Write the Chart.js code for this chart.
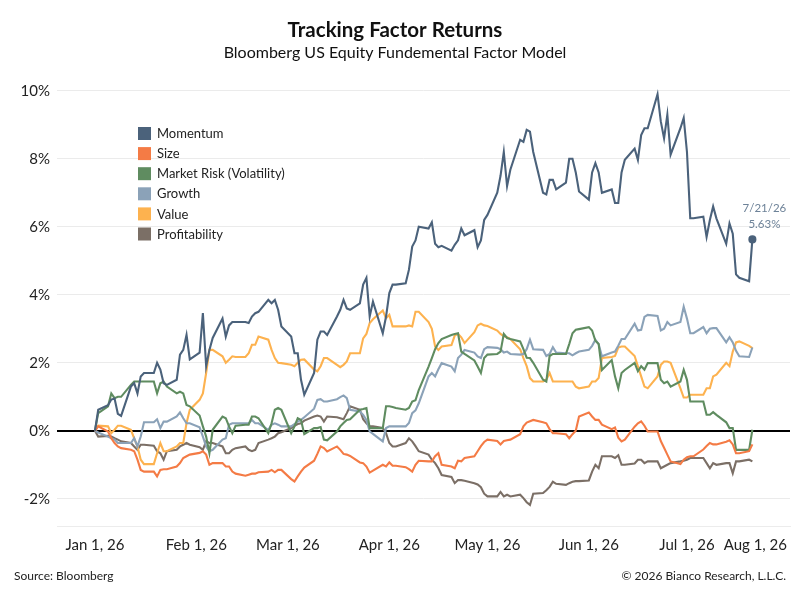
<!DOCTYPE html>
<html>
<head>
<meta charset="utf-8">
<title>Tracking Factor Returns</title>
<script src="https://cdn.jsdelivr.net/npm/chart.js@4.4.1/dist/chart.umd.min.js"></script>
<style>
  html, body { margin: 0; padding: 0; background: #fff; }
  #wrap { width: 800px; height: 600px; position: relative; }
</style>
</head>
<body>
<div id="wrap"><canvas id="chart"></canvas></div>
<script>
// daily factor returns (%), one value per trading day from Jan 1 to Jul 21, 2026
const momentum = [
  0, 0.62, 0.75, 0.92, 0.95, 0.5, 0.44, 1.3, 1.4, 1.1,
  1.6, 1.7, 1.7, 2.0, 1.8, 1.4, 1.35, 1.5, 2.24, 2.38,
  2.82, 2.1, 2.3, 3.46, 1.9, 2.38, 2.73, 3.3, 2.77, 3.1,
  3.2, 3.2, 3.2, 3.17, 3.36, 3.46, 3.5, 3.85, 3.75, 3.85,
  3.56, 3.07, 2.77, 2.28, 2.28, 1.5, 1.06, 1.7, 2.68, 2.92,
  2.92, 2.82, 3.36, 3.56, 3.85, 3.6, 3.56, 3.75, 4.3, 4.5,
  3.36, 3.8, 2.87, 3.36, 4.05, 4.3, 4.3, 4.34, 4.74, 5.42,
  5.6, 6.0, 5.95, 6.13, 5.5, 5.4, 5.44, 5.3, 5.47, 5.6,
  5.95, 5.75, 5.9, 5.4, 5.6, 6.2, 6.35, 7.0, 7.5, 8.2,
  7.2, 7.68, 8.56, 8.5, 8.85, 8.8, 8.2, 7.0, 6.95, 7.38,
  7.38, 7.1, 7.3, 8.0, 8.0, 7.6, 7.04, 6.8, 7.6, 7.87,
  7.6, 7.0, 7.1, 6.7, 6.7, 7.6, 7.97, 8.3, 7.97, 8.7,
  8.9, 8.9, 9.9, 9.1, 8.6, 9.3, 8.12, 8.9, 9.2, 8.2,
  6.25, 6.25, 6.3, 5.7, 6.2, 6.6, 6.25, 5.5, 6.1, 5.8,
  4.6, 4.5, 4.4, 5.63
];
const size = [
  0, 0.13, -0.02, -0.22, -0.36, -0.46, -0.51, -0.56, -0.6, -0.85,
  -1.15, -1.2, -1.2, -1.34, -1.15, -1.13, -1.13, -1.05, -0.95, -0.8,
  -0.75, -0.7, -0.65, -0.6, -0.7, -1.0, -0.95, -0.95, -1.05, -1.05,
  -1.2, -1.26, -1.32, -1.29, -1.26, -1.26, -1.22, -1.2, -1.15, -1.22,
  -1.15, -1.15, -1.42, -1.49, -1.34, -1.2, -1.08, -0.88, -0.68, -0.46,
  -0.51, -0.61, -0.46, -0.56, -0.68, -0.7, -0.74, -0.93, -0.95, -1.05,
  -1.23, -1.17, -1.0, -1.05, -0.93, -1.03, -1.03, -1.07, -1.13, -1.2,
  -1.0, -0.88, -0.9, -0.9, -0.75, -0.66, -1.0, -1.05, -1.1, -0.88,
  -0.9, -0.8, -0.75, -0.6, -0.45, -0.33, -0.26, -0.3, -0.4, -0.3,
  -0.28, -0.26, -0.1, 0.13, 0.24, 0.28, 0.32, 0.25, 0.22, 0.05,
  -0.07, -0.07, -0.1, -0.22, -0.1, 0.0, 0.42, 0.54, 0.42, 0.32,
  0.32, 0.18, 0.05, 0.1, -0.2, -0.31, -0.26, 0.12, 0.22, 0.28,
  0.15, -0.02, -0.02, -0.3, -0.5, -0.7, -0.9, -0.98, -0.85, -0.78,
  -0.75, -0.75, -0.55, -0.45, -0.36, -0.4, -0.4, -0.32, -0.28, -0.4,
  -0.66, -0.66, -0.6, -0.4
];
const marketRisk = [
  0, 0.52, 0.72, 1.1, 0.96, 1.0, 1.0, 1.35, 1.45, 1.45,
  1.45, 1.45, 1.45, 1.1, 1.4, 1.45, 1.3, 1.1, 1.15, 1.1,
  0.76, 0.72, 0.45, 0.13, -0.17, -0.66, 0.03, 0.42, 0.37, 0.13,
  -0.07, 0.15, 0.18, 0.18, 0.42, 0.42, 0.37, -0.07, 0.22, 0.62,
  0.67, 0.62, -0.07, 0.13, 0.37, 0.32, -0.1, 0.08, 0.08, 0.11,
  -0.26, -0.28, -0.02, 0.13, 0.23, 0.32, 0.34, 0.62, 0.64, 0.67,
  0.08, 0.08, 0.08, 0.72, 0.72, 0.7, 0.67, 0.62, 0.67, 0.86,
  0.9, 1.2, 1.89, 2.14, 2.4, 2.58, 2.7, 2.82, 2.85, 2.87,
  2.33, 2.26, 2.07, 1.89, 1.7, 2.14, 2.24, 2.26, 2.33, 2.85,
  2.73, 2.7, 2.63, 2.4, 2.15, 2.14, 2.0, 1.5, 1.45, 2.2,
  2.26, 2.26, 2.26, 2.55, 2.87, 2.97, 2.99, 3.05, 2.95, 2.65,
  2.55, 1.79, 2.08, 1.6, 1.25, 1.7, 1.79, 2.0, 1.75, 1.9,
  1.8, 1.99, 1.99, 1.5, 1.4, 1.45, 1.3, 1.45, 1.79, 1.5,
  0.86, 0.86, 0.86, 0.47, 0.47, 0.55, 0.47, 0.25, 0.08, 0.08,
  -0.56, -0.56, -0.56, 0.03
];
const growth = [
  0, -0.05, -0.17, -0.22, -0.26, -0.36, -0.36, -0.36, -0.22, -0.46,
  -0.17, 0.25, 0.25, 0.34, 0.08, 0.27, 0.27, 0.42, 0.54, 0.37,
  0.22, 0.22, 0.1, -0.17, -0.46, -0.6, -0.56, -0.26, -0.22, 0.18,
  0.22, 0.22, 0.22, 0.22, 0.32, 0.22, 0.22, 0.03, 0.18, 0.22,
  0.18, 0.13, 0.13, 0.2, 0.27, 0.32, 0.4, 0.65, 0.91, 0.93,
  0.86, 0.86, 0.93, 0.99, 1.04, 0.96, 0.62, 0.57, 0.47, 0.32,
  -0.02, -0.09, -0.31, 0.08, 0.13, 0.13, 0.13, 0.13, 0.23, 0.52,
  0.6, 0.81, 1.6, 1.7, 1.6, 1.81, 1.99, 1.89, 1.75, 2.14,
  2.24, 2.38, 2.3, 2.19, 2.14, 2.4, 2.46, 2.44, 2.4, 2.3,
  2.33, 2.26, 2.24, 2.26, 2.4, 2.68, 2.4, 2.38, 2.2, 2.26,
  2.46, 2.3, 2.28, 2.28, 2.22, 2.28, 2.33, 2.38, 2.5, 2.68,
  2.55, 2.19, 2.3, 2.33, 2.5, 2.7, 2.7, 3.15, 2.95, 2.97,
  3.35, 3.41, 3.38, 2.95, 3.0, 3.2, 3.1, 3.2, 3.65, 3.3,
  2.87, 2.87, 3.05, 2.87, 3.0, 3.02, 3.02, 2.6, 2.75, 2.6,
  2.35, 2.19, 2.17, 2.45
];
const value = [
  0, 0.15, 0.13, -0.07, 0.03, 0.15, 0.15, 0.03, -0.22, -0.46,
  -0.85, -0.98, -0.98, -0.66, -0.36, -0.6, -0.6, -0.46, -0.36, -0.36,
  0.22, 0.62, 0.91, 1.1, 1.7, 2.38, 2.38, 2.19, 2.0, 2.09,
  2.19, 2.17, 2.17, 2.28, 2.53, 2.53, 2.77, 2.68, 2.38, 2.14,
  2.0, 1.99, 1.94, 1.9, 2.0, 2.09, 2.1, 1.8, 1.75, 1.9,
  2.14, 2.14, 1.94, 1.87, 1.94, 2.04, 2.28, 2.28, 2.72, 2.85,
  3.17, 3.28, 3.54, 3.31, 3.41, 3.07, 3.07, 3.07, 3.1, 3.07,
  3.5, 3.5, 3.2, 3.0, 2.48, 2.38, 2.48, 2.52, 2.8, 2.85,
  2.75, 2.58, 2.9, 3.1, 3.15, 3.1, 3.08, 2.95, 2.85, 2.78,
  2.75, 2.7, 2.4, 2.14, 1.9, 1.55, 1.45, 1.45, 1.5, 1.7,
  1.45, 1.45, 1.45, 1.45, 1.45, 1.3, 1.25, 1.3, 1.45, 1.45,
  1.55, 2.14, 2.17, 2.2, 2.45, 2.48, 2.48, 2.2, 1.9, 1.6,
  1.3, 1.25, 1.6, 1.94, 2.04, 2.04, 2.0, 1.25, 0.98, 0.98,
  1.06, 1.06, 1.06, 1.25, 1.25, 1.6, 1.65, 2.0, 1.9, 2.33,
  2.6, 2.63, 2.5, 2.43
];
const profitability = [
  0, -0.17, -0.15, -0.17, -0.22, -0.26, -0.31, -0.36, -0.46, -0.56,
  -0.41, -0.41, -0.44, -0.6, -0.66, -0.85, -0.6, -0.56, -0.46, -0.41,
  -0.36, -0.41, -0.48, -0.56, -0.31, -0.36, -0.36, -0.46, -0.66, -0.66,
  -0.56, -0.51, -0.46, -0.56, -0.6, -0.56, -0.36, -0.26, -0.22, -0.17,
  -0.07, -0.04, 0.08, 0.15, 0.2, 0.22, 0.3, 0.42, 0.45, 0.42,
  0.27, 0.42, 0.4, 0.37, 0.34, 0.52, 0.72, 0.62, 0.34, 0.22,
  0.13, 0.13, 0.08, -0.07, -0.36, -0.46, -0.46, -0.36, -0.22, -0.31,
  -0.45, -0.6, -0.7, -0.85, -0.95, -1.1, -1.3, -1.36, -1.54, -1.45,
  -1.45, -1.47, -1.54, -1.58, -1.66, -1.85, -1.93, -1.93, -1.8, -1.93,
  -1.88, -1.93, -1.88, -1.98, -2.1, -2.18, -1.85, -1.83, -1.75, -1.65,
  -1.5, -1.56, -1.59, -1.54, -1.5, -1.48, -1.48, -1.46, -1.2, -1.0,
  -1.1, -0.75, -0.75, -0.8, -0.72, -1.0, -1.0, -0.96, -0.85, -0.85,
  -0.95, -0.9, -0.9, -1.1, -1.05, -1.0, -0.95, -0.9, -0.88, -0.85,
  -0.8, -0.8, -0.8, -0.95, -1.1, -0.95, -1.0, -0.95, -0.95, -1.25,
  -0.9, -0.9, -0.85, -0.9
];

const seriesNames = ["Momentum", "Size", "Market Risk (Volatility)", "Growth", "Value", "Profitability"];
const monthLabels = ["Jan 1, 26", "Feb 1, 26", "Mar 1, 26", "Apr 1, 26", "May 1, 26", "Jun 1, 26", "Jul 1, 26", "Aug 1, 26"];
const monthDays = [0, 31, 59, 90, 120, 151, 181, 212];   // days after Jan 1
const yTicks = [-2, 0, 2, 4, 6, 8, 10];

const colors = ["#4b627b", "#f47b45", "#5f8c60", "#8ba2b8", "#fdb24f", "#7b6f66"];

// trading days (weekdays) as day offsets from Jan 1, 2026
const tradingDays = [];
for (let d = 0; d <= 201; d++) {
  const wd = new Date(Date.UTC(2026, 0, 1 + d)).getUTCDay();
  if (wd !== 0 && wd !== 6) tradingDays.push(d);
}

const allSeries = [momentum, size, marketRisk, growth, value, profitability];
const lastIdx = momentum.length - 1;

const datasets = allSeries.map((vals, k) => ({
  label: seriesNames[k],
  data: vals.map((v, i) => ({ x: tradingDays[i], y: v })),
  borderColor: colors[k],
  backgroundColor: colors[k],
  borderWidth: 2.1,
  tension: 0,
  pointRadius: k === 0 ? (ctx => ctx.dataIndex === lastIdx ? 3 : 0) : 0,
  pointHoverRadius: 0
}));

const FONT = "Lato, 'Noto Sans', sans-serif";
Chart.defaults.font.family = FONT;
Chart.defaults.color = "#222";

// draws x labels, the legend box, the end-point note and the footer
const extras = {
  id: "extras",
  afterDraw(chart) {
    const { ctx, scales } = chart;
    const xs = scales.x, ys = scales.y;
    ctx.save();

    // month labels, the last one is kept inside the canvas
    ctx.font = "15px " + FONT;
    ctx.fillStyle = "#222";
    ctx.textAlign = "center";
    ctx.textBaseline = "middle";
    monthLabels.forEach((lab, i) => {
      const w = ctx.measureText(lab).width;
      let px = xs.getPixelForValue(monthDays[i]);
      px = Math.min(px, chart.width - 13 - w / 2);
      ctx.fillText(lab, px, 545);
    });

    // legend
    ctx.font = "13px " + FONT;
    ctx.textAlign = "left";
    chart.data.datasets.forEach((ds, i) => {
      const cy = 133.5 + i * 20.1;
      ctx.fillStyle = ds.borderColor;
      ctx.fillRect(138, cy - 6.5, 13, 13);
      ctx.fillStyle = "#222";
      ctx.fillText(ds.label, 157, cy + 0.5);
    });

    // last value note
    const lx = xs.getPixelForValue(tradingDays[lastIdx]);
    const ly = ys.getPixelForValue(momentum[lastIdx]);
    ctx.font = "11.5px " + FONT;
    ctx.fillStyle = "#6d8298";
    ctx.textAlign = "center";
    ctx.fillText("7/21/26", lx + 12, ly - 31);
    ctx.fillText(momentum[lastIdx].toFixed(2) + "%", lx + 12, ly - 15);

    // footer
    ctx.font = "12px " + FONT;
    ctx.fillStyle = "#222";
    ctx.textAlign = "left";
    ctx.fillText("Source: Bloomberg", 14, 576);
    ctx.textAlign = "right";
    ctx.fillText("\u00A9 2026 Bianco Research, L.L.C.", 786, 576);
    ctx.restore();
  }
};

new Chart(document.getElementById("chart"), {
  type: "line",
  data: { datasets },
  options: {
    responsive: true,
    maintainAspectRatio: false,
    animation: false,
    layout: { padding: { left: 0, right: 10, top: 0, bottom: 66 } },
    plugins: {
      legend: { display: false },
      tooltip: { enabled: false },
      title: {
        display: true,
        text: "Tracking Factor Returns",
        color: "#111",
        font: { size: 20.5, weight: "bold" },
        padding: { top: 18.5, bottom: 0 }
      },
      subtitle: {
        display: true,
        text: "Bloomberg US Equity Fundemental Factor Model",
        color: "#111",
        font: { size: 16 },
        padding: { top: 0, bottom: 11.5 }
      }
    },
    scales: {
      x: {
        type: "linear",
        min: -11.6,
        max: 212.5,
        grid: { display: false },
        border: { display: true, color: "#ececec" },
        ticks: { display: false }
      },
      y: {
        min: -2.8,
        max: 10.5,
        afterBuildTicks: axis => { axis.ticks = yTicks.map(v => ({ value: v })); },
        afterFit: axis => { axis.width = 57; },
        border: { display: false },
        grid: {
          drawTicks: false,
          color: c => c.tick && c.tick.value === 0 ? "#000" : "#ebebeb",
          lineWidth: c => c.tick && c.tick.value === 0 ? 2 : 1
        },
        ticks: {
          padding: 7,
          font: { size: 15 },
          color: "#222",
          callback: v => v + "%"
        }
      }
    }
  },
  plugins: [extras]
});
</script>
</body>
</html>
